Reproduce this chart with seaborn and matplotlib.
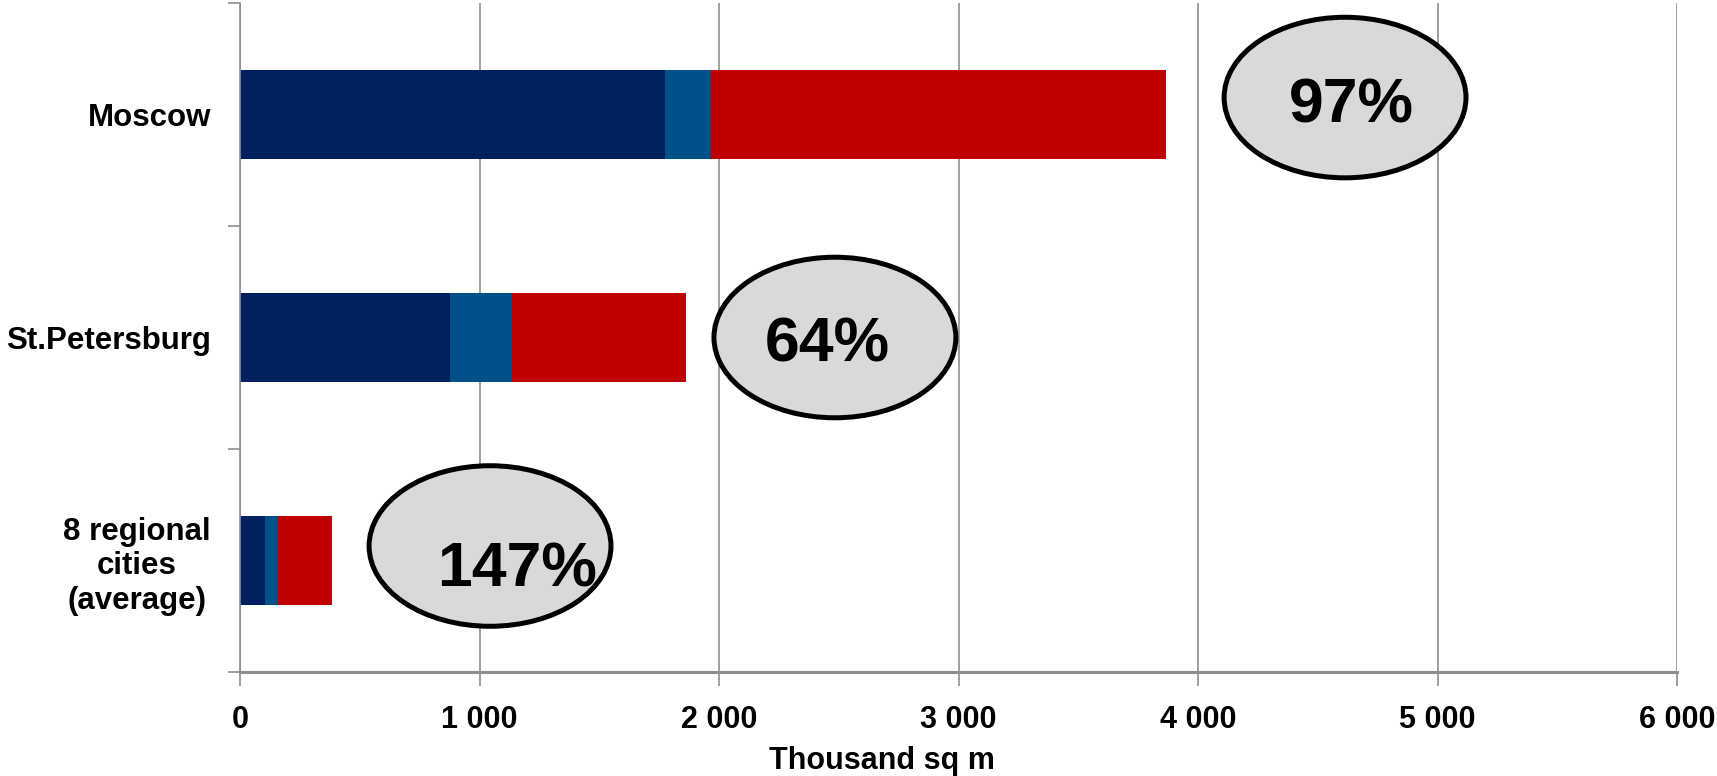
import matplotlib
matplotlib.use("Agg")
import matplotlib.pyplot as plt
from matplotlib.patches import Ellipse
from matplotlib.ticker import FuncFormatter, MultipleLocator
import seaborn as sns
import pandas as pd

# Office stock by city, thousand sq m (three stacked components)
cities = ["Moscow", "St.Petersburg", "8 regional\ncities\n(average)"]
part_a = [1775, 877, 106]
part_b = [191, 260, 51]
part_c = [1899, 726, 227]
growth_labels = ["97%", "64%", "147%"]

# Callout bubble placement (data x, category y) and label baseline positions
bubble_xy = [(4614, -0.076), (2484, 1.0), (1044, 1.935)]
bubble_text_xy = [(4639, 0.034), (2451, 1.107), (1157, 2.116)]

colors = ["#002060", "#00508A", "#C00000"]
grid_gray = "#8F8F8F"

sns.set_theme(style="white")
plt.rcParams["font.family"] = ["Liberation Sans", "DejaVu Sans"]
plt.rcParams["font.weight"] = "bold"
plt.rcParams["text.color"] = "black"
plt.rcParams["xtick.color"] = "black"
plt.rcParams["ytick.color"] = "black"
plt.rcParams["axes.labelcolor"] = "black"

df = pd.DataFrame({"city": cities, "a": part_a, "b": part_b, "c": part_c})
df["ab"] = df["a"] + df["b"]
df["abc"] = df["ab"] + df["c"]

fig = plt.figure(figsize=(17.17, 7.76), dpi=100)
ax = fig.add_axes([240 / 1717, 104 / 776, 1437 / 1717, 669 / 776])

# Stacked bars: draw cumulative totals from the outermost segment inward
for col, colr in zip(["abc", "ab", "a"], colors[::-1]):
    sns.barplot(data=df, x=col, y="city", orient="h", color=colr,
                width=0.4, saturation=1, ax=ax, zorder=2,
                edgecolor="none", linewidth=0)

ax.set_xlim(0, 6000)
ax.set_ylim(2.5, -0.5)
ax.xaxis.set_major_locator(MultipleLocator(1000))
ax.xaxis.set_major_formatter(
    FuncFormatter(lambda v, p: f"{int(v):,}".replace(",", " ")))

ax.set_yticks([0, 1, 2])
ax.set_yticklabels(cities, fontsize=22.5, fontweight="bold",
                   multialignment="center", linespacing=1.2, color="black")
ax.set_yticks([-0.5, 0.5, 1.5, 2.5], minor=True)
ax.tick_params(axis="y", which="major", length=0, pad=21)
ax.tick_params(axis="y", which="minor", length=9, width=1.2,
               color=grid_gray, left=True)
ax.tick_params(axis="x", which="major", length=10, width=1.2,
               color=grid_gray, bottom=True, labelsize=22, pad=14,
               labelcolor="black")
for lbl in ax.get_xticklabels():
    lbl.set_fontweight("bold")

ax.grid(axis="x", color=grid_gray, linewidth=1.2, zorder=0)
ax.grid(axis="y", visible=False)
ax.set_axisbelow(True)

ax.set_ylabel("")
ax.set_xlabel("Thousand sq m", fontsize=22, fontweight="bold", color="black")
ax.xaxis.set_label_coords(0.447, -0.110)

for side in ["top", "right"]:
    ax.spines[side].set_visible(False)
ax.spines["left"].set_color(grid_gray)
ax.spines["left"].set_linewidth(1.2)
ax.spines["bottom"].set_color(grid_gray)
ax.spines["bottom"].set_linewidth(2.2)

# Growth callouts
for (bx, by), (tx, ty), txt in zip(bubble_xy, bubble_text_xy, growth_labels):
    ax.add_patch(Ellipse((bx, by), width=1010, height=0.72,
                         facecolor="#D9D9D9", edgecolor="black",
                         linewidth=3.6, zorder=5, clip_on=False))
    ax.text(tx, ty, txt, ha="center", va="baseline", fontsize=45,
            fontweight="bold", color="black", zorder=6)

fig.savefig("out.png", dpi=100)
